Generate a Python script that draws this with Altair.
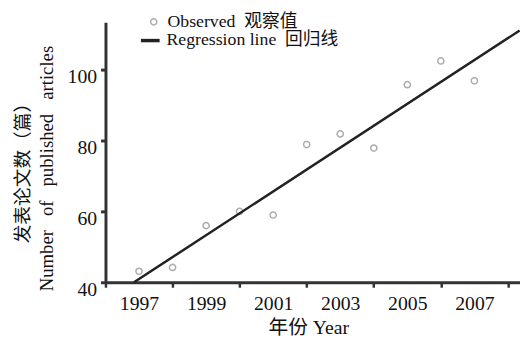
import altair as alt
import pandas as pd

# ---- data ----
years = [1997, 1998, 1999, 2000, 2001, 2002, 2003, 2004, 2005, 2006, 2007]
articles = [43.1, 44.2, 56.0, 60.0, 59.0, 78.9, 81.9, 77.9, 95.8, 102.5, 96.9]
line_x = [1996.85, 2008.35]
line_y = [40.0, 111.1]
series_names = ["Observed\u00a0\u00a0观察值", "Regression line\u00a0\u00a0回归线"]
x_ticks = list(range(1996, 2009))
y_ticks = [40, 60, 80, 100]
y_title = ["发表论文数（篇）", "Number\u00a0\u00a0\u00a0of\u00a0\u00a0\u00a0published\u00a0\u00a0\u00a0articles"]
x_title = "年份 Year"

SERIF = "Liberation Serif, Noto Sans CJK SC"

rows = [{"x": x, "y": y, "series": series_names[0]} for x, y in zip(years, articles)]
rows += [{"x": x, "y": y, "series": series_names[1]} for x, y in zip(line_x, line_y)]
df = pd.DataFrame(rows)

x_enc = alt.X(
    "x:Q",
    scale=alt.Scale(domain=[1996, 2008.36], nice=False, zero=False),
    axis=alt.Axis(
        values=x_ticks,
        format="d",
        labelExpr="datum.value % 2 == 1 ? datum.label : ''",
        tickOpacity={"condition": {"test": "datum.value % 2 == 1", "value": 0}, "value": 1},
        labelFlush=False,
        labelOverlap=False,
        labelFont=SERIF,
        labelFontSize=20,
        labelColor="#111",
        labelPadding=7,
        tickSize=5,
        tickWidth=2.5,
        tickColor="#333",
        domainColor="#333",
        domainWidth=3,
        grid=False,
        title=x_title,
        titleFont=SERIF,
        titleFontSize=20,
        titleFontWeight="normal",
        titleColor="#111",
        titleX=206,
        titleY=52,
        titleAlign="center",
        titleBaseline="alphabetic",
    ),
)

y_enc = alt.Y(
    "y:Q",
    scale=alt.Scale(domain=[40, 113.4], nice=False, zero=False),
    axis=alt.Axis(
        values=y_ticks,
        labelFont=SERIF,
        labelFontSize=20,
        labelColor="#111",
        labelBaseline="top",
        labelOffset=-3,
        labelPadding=4,
        tickSize=5,
        tickWidth=3,
        tickColor="#333",
        domainColor="#333",
        domainWidth=3,
        grid=False,
        title=y_title,
        titleFont=SERIF,
        titleFontSize=19,
        titleFontWeight="normal",
        titleColor="#111",
        titleAngle=270,
        titleX=-84,
        titleY=148,
        titleAlign="center",
        titleBaseline="middle",
        titleLineHeight=24,
    ),
)

obs_legend = alt.Legend(
    orient="none",
    legendX=40,
    legendY=-9.5,
    title=None,
    labelFont=SERIF,
    labelFontSize=18,
    labelColor="#111",
    labelLimit=400,
    padding=0,
    labelOffset=5,
    symbolSize=40,
    symbolStrokeWidth=1.5,
    symbolStrokeColor="#8a8a8a",
    symbolFillColor="transparent",
)

line_legend = alt.Legend(
    orient="none",
    legendX=34,
    legendY=7,
    title=None,
    labelFont=SERIF,
    labelFontSize=18,
    labelColor="#111",
    labelLimit=400,
    padding=0,
    labelOffset=5,
    symbolType="stroke",
    symbolSize=361,
    symbolStrokeWidth=3.5,
)

base = alt.Chart(df)

points = base.transform_filter(
    alt.datum.series == series_names[0]
).mark_point(filled=False, color="#8a8a8a", size=40, strokeWidth=1.5).encode(
    x=x_enc,
    y=y_enc,
    shape=alt.Shape(
        "series:N",
        scale=alt.Scale(domain=[series_names[0]], range=["circle"]),
        legend=obs_legend,
    ),
)

line = base.transform_filter(
    alt.datum.series == series_names[1]
).mark_line(strokeWidth=2.5).encode(
    x=x_enc,
    y=y_enc,
    color=alt.Color(
        "series:N",
        scale=alt.Scale(domain=[series_names[1]], range=["#222222"]),
        legend=line_legend,
    ),
)

chart = alt.layer(points, line).properties(
    width=421,
    height=264,
    autosize=alt.AutoSizeParams(type="none"),
    padding={"left": 99, "top": 12, "right": 0, "bottom": 54},
    background="white",
).configure_view(stroke=None)

chart.save("out.html", embed_options={"renderer": "svg", "actions": False})
